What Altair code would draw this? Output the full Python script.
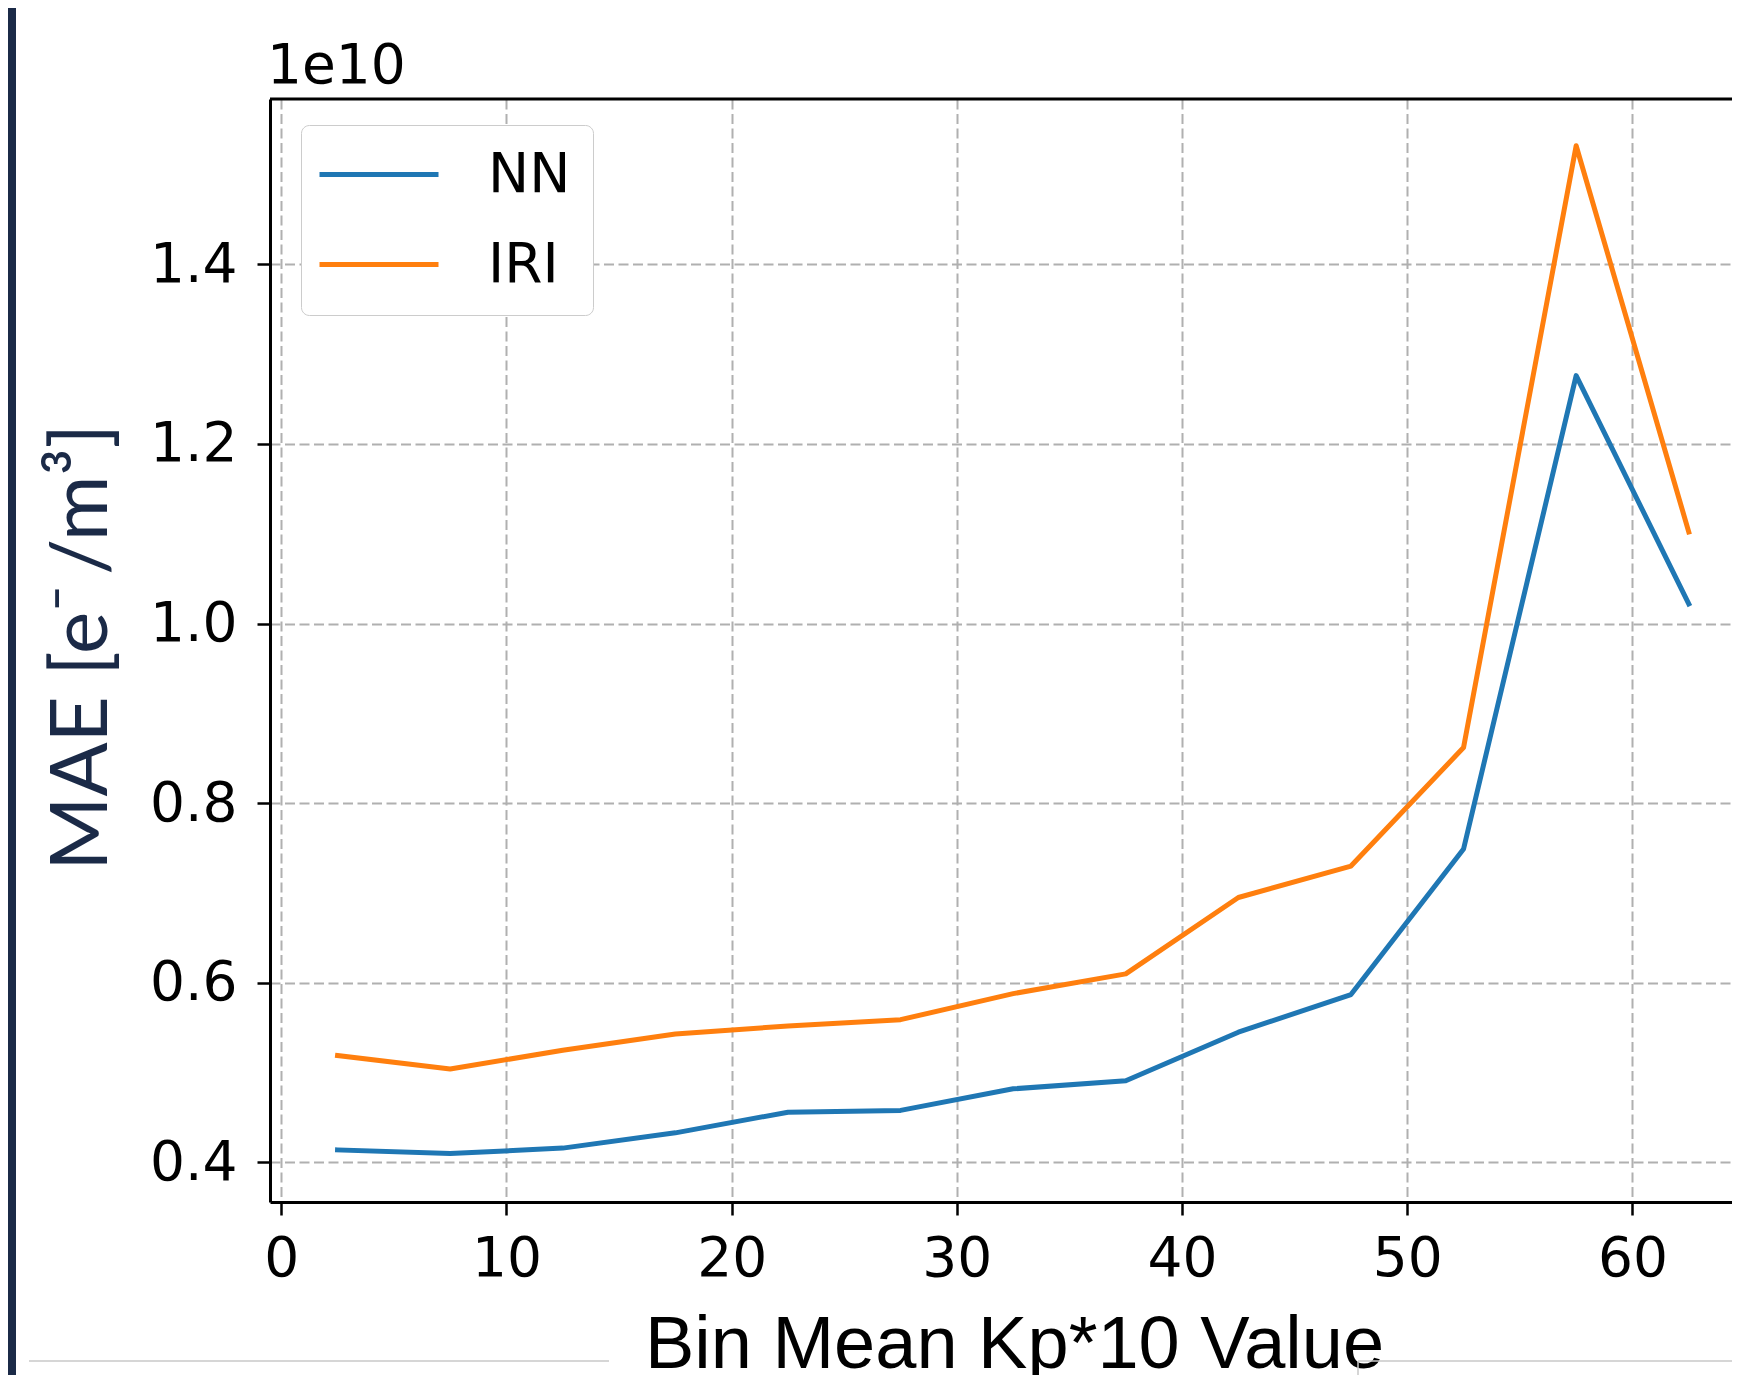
import altair as alt
import pandas as pd

# ---- data (values in units of 1e10 e-/m^3) ----
kp_bins = [2.5, 7.5, 12.5, 17.5, 22.5, 27.5, 32.5, 37.5, 42.5, 47.5, 52.5, 57.5, 62.5]
nn_mae = [0.414, 0.410, 0.416, 0.433, 0.456, 0.458, 0.482, 0.491, 0.545, 0.587, 0.749, 1.276, 1.022]
iri_mae = [0.519, 0.504, 0.525, 0.543, 0.552, 0.559, 0.588, 0.610, 0.695, 0.730, 0.862, 1.532, 1.102]
series_names = ["NN", "IRI"]
series_colors = ["#1f77b4", "#ff7f0e"]
x_ticks = [0, 10, 20, 30, 40, 50, 60]
y_ticks = [0.4, 0.6, 0.8, 1.0, 1.2, 1.4]
offset_text = "1e10"
x_title = "Bin Mean Kp*10 Value"
y_title = "MAE [e\u207b\u2009/m\u00b3]"

rows = []
for name, vals in zip(series_names, [nn_mae, iri_mae]):
    for k, v in zip(kp_bins, vals):
        rows.append({"kp": k, "mae": v, "series": name})
df = pd.DataFrame(rows)

W, H = 1462, 1103
PAD = {"left": 262, "top": 91, "right": 0, "bottom": 173}

lines = alt.Chart(df).mark_line(
    strokeWidth=5, strokeJoin="round", strokeCap="square", clip=True
).encode(
    x=alt.X(
        "kp:Q",
        scale=alt.Scale(domain=[-0.5, 64.42], nice=False, zero=False),
        axis=alt.Axis(
            values=x_ticks,
            format="d",
            title=x_title,
            titleFont="Liberation Sans",
            titleFontSize=74,
            titleFontWeight="normal",
            titleColor="black",
            titleX=744,
            titleY=165,
            titleAlign="center",
            titleBaseline="alphabetic",
            labelPadding=17,
        ),
    ),
    y=alt.Y(
        "mae:Q",
        scale=alt.Scale(domain=[0.356, 1.584], nice=False, zero=False),
        axis=alt.Axis(
            values=y_ticks,
            format=".1f",
            title=y_title,
            titleFont="Lato",
            titleFontSize=80,
            titleFontWeight="normal",
            titleColor="#1b2a47",
            titleAngle=-90,
            titleX=-164,
            titleY=548,
            titleAlign="center",
            titleBaseline="alphabetic",
            labelPadding=20,
        ),
    ),
    color=alt.Color(
        "series:N",
        scale=alt.Scale(domain=series_names, range=series_colors),
        sort=series_names,
        legend=alt.Legend(
            title=None,
            orient="none",
            legendX=31,
            legendY=26,
            symbolType="M-3.1,0H8.8",
            symbolSize=400,
            symbolStrokeWidth=5,
            labelFont="DejaVu Sans",
            labelFontSize=55,
            labelColor="black",
            labelOffset=110,
            padding=22,
            rowPadding=34,
            cornerRadius=8,
            strokeColor="#cccccc",
            fillColor="white",
        ),
    ),
)

one = pd.DataFrame({"label": [offset_text]})
offset_label = alt.Chart(one).mark_text(
    font="DejaVu Sans", fontSize=55, color="black", align="left", baseline="alphabetic"
).encode(text="label:N", x=alt.value(-3), y=alt.value(-16))
top_border = alt.Chart(one).mark_rule(color="black", strokeWidth=3).encode(
    x=alt.value(0), x2=alt.value(W), y=alt.value(0)
)
side_bar = alt.Chart(one).mark_rect(color="#1b2a47").encode(
    x=alt.value(-262), x2=alt.value(-254), y=alt.value(-91), y2=alt.value(H + 173)
)
art1 = alt.Chart(one).mark_rule(color="#c8c8c8", strokeWidth=1.5).encode(
    x=alt.value(-241), x2=alt.value(339), y=alt.value(1262)
)
art2 = alt.Chart(one).mark_rule(color="#c8c8c8", strokeWidth=1.5).encode(
    x=alt.value(1088), x2=alt.value(W), y=alt.value(1262)
)
art3 = alt.Chart(one).mark_rule(color="#c8c8c8", strokeWidth=1.5).encode(
    x=alt.value(1088), y=alt.value(1262), y2=alt.value(1284)
)

chart = alt.layer(side_bar, art1, art2, art3, lines, top_border, offset_label).properties(
    width=W,
    height=H,
    padding=PAD,
    autosize=alt.AutoSizeParams(type="none"),
).configure_view(stroke=None).configure_axis(
    grid=True,
    gridColor="#b0b0b0",
    gridWidth=2,
    gridDash=[10, 4.5],
    domainColor="black",
    domainWidth=3,
    tickColor="black",
    tickWidth=2.5,
    tickSize=13,
    labelFont="DejaVu Sans",
    labelFontSize=55,
    labelColor="black",
)

chart.save("out.html", embed_options={"renderer": "svg", "actions": False})
